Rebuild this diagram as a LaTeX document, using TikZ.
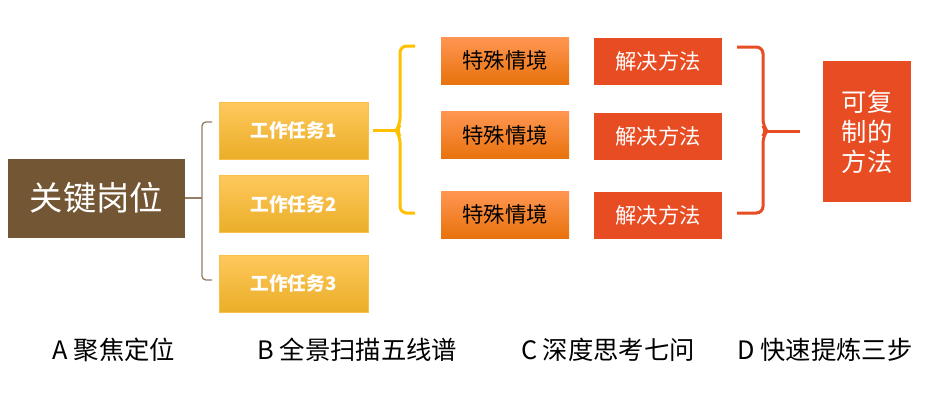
\documentclass[tikz,border=0pt]{standalone}
\usepackage{fontspec}
\setmainfont{Noto Sans CJK SC}
\usetikzlibrary{positioning,calc}
\definecolor{postbrown}{RGB}{115,86,52}
\definecolor{tasktop}{RGB}{255,200,92}
\definecolor{taskbot}{RGB}{234,174,40}
\definecolor{taskedge}{RGB}{248,192,72}
\definecolor{scenetop}{RGB}{255,150,82}
\definecolor{scenebot}{RGB}{232,114,12}
\definecolor{solvered}{RGB}{232,76,34}
\definecolor{braceyellow}{RGB}{255,192,0}
\definecolor{bracebrown}{RGB}{150,125,100}
\tikzset{
  block/.style={inner sep=0pt,align=center,minimum width=96pt,minimum height=35.25pt},
  post/.style={block,fill=postbrown,text=white,minimum width=132.75pt,
               minimum height=59.25pt,font=\fontsize{25}{30}\selectfont},
  task/.style={block,top color=tasktop,bottom color=taskbot,draw=taskedge,
               line width=.6pt,text=white,minimum width=111.75pt,
               minimum height=42.75pt,font=\bfseries\fontsize{14}{17}\selectfont},
  scene/.style={block,top color=scenetop,bottom color=scenebot,
                font=\fontsize{16}{19}\selectfont},
  solve/.style={block,fill=solvered,text=white,font=\fontsize{16}{19}\selectfont},
  result/.style={block,fill=solvered,text=white,minimum width=66pt,
                 minimum height=105.75pt,font=\fontsize{19}{22.5}\selectfont},
  stagelbl/.style={inner sep=0pt,font=\fontsize{19}{23}\selectfont},
  brownbrace/.style={draw=bracebrown,line width=1pt,rounded corners=3pt},
  yellowbrace/.style={draw=braceyellow,line width=2.25pt,rounded corners=5pt},
  redbrace/.style={draw=solvered,line width=2.25pt,rounded corners=5pt},
}
\begin{document}
\begin{tikzpicture}[x=0.75pt,y=0.75pt]
  \useasboundingbox (0,0) rectangle (934,-405);
  % A: post
  \node[post] (post) at (96.5,-198) {关键岗位};
  % B: tasks
  \node[task] (task1) at (293.5,-130.5) {工作任务1};
  \node[task] (task2) at (293.5,-204) {工作任务2};
  \node[task] (task3) at (293.5,-283.5) {工作任务3};
  % C: scenes and solutions
  \node[scene] (scene1) at (505,-60.5) {特殊情境};
  \node[scene] (scene2) at (505,-135) {特殊情境};
  \node[scene] (scene3) at (505,-214.5) {特殊情境};
  \node[solve] (solve1) at (658,-61.5) {解决方法};
  \node[solve] (solve2) at (658,-136) {解决方法};
  \node[solve] (solve3) at (658,-215) {解决方法};
  % D: result
  \node[result] (result) at (867,-131.5) {可复\\制的\\方法};
  % braces
  \coordinate (bmid) at (202,-198);
  \coordinate (btop) at (212,-122);
  \coordinate (bbot) at (212,-280);
  \draw[brownbrace] (post.east) -- ++(9,0) -- (bmid);
  \draw[brownbrace] (btop) -- (202,-122) -- (bmid) -- (202,-280) -- (bbot);
  \coordinate (ymid) at (396,-130.5);
  \coordinate (ytop) at (415,-46);
  \coordinate (ybot) at (415,-213);
  \draw[yellowbrace] ($(task1.east)+(5,0)$) -- (ymid);
  \draw[yellowbrace] (ytop) -- (400,-46) -- (400,-125) -- (ymid)
    -- (400,-136) -- (400,-213) -- (ybot);
  \coordinate (rmid) at (767,-131);
  \coordinate (rtop) at (737,-47);
  \coordinate (rbot) at (737,-213);
  \draw[redbrace] (rmid) -- ($(result.west)+(-23,0.5)$);
  \draw[redbrace] (rtop) -- (763,-47) -- (763,-126) -- (rmid)
    -- (763,-136) -- (763,-213) -- (rbot);
  % stage labels
  \node[stagelbl] (stageA) at (114,-350) {A 聚焦定位};
  \node[stagelbl] (stageB) at (357.5,-350) {B 全景扫描五线谱};
  \node[stagelbl] (stageC) at (608,-350) {C 深度思考七问};
  \node[stagelbl] (stageD) at (825,-350) {D 快速提炼三步};
\end{tikzpicture}
\end{document}
